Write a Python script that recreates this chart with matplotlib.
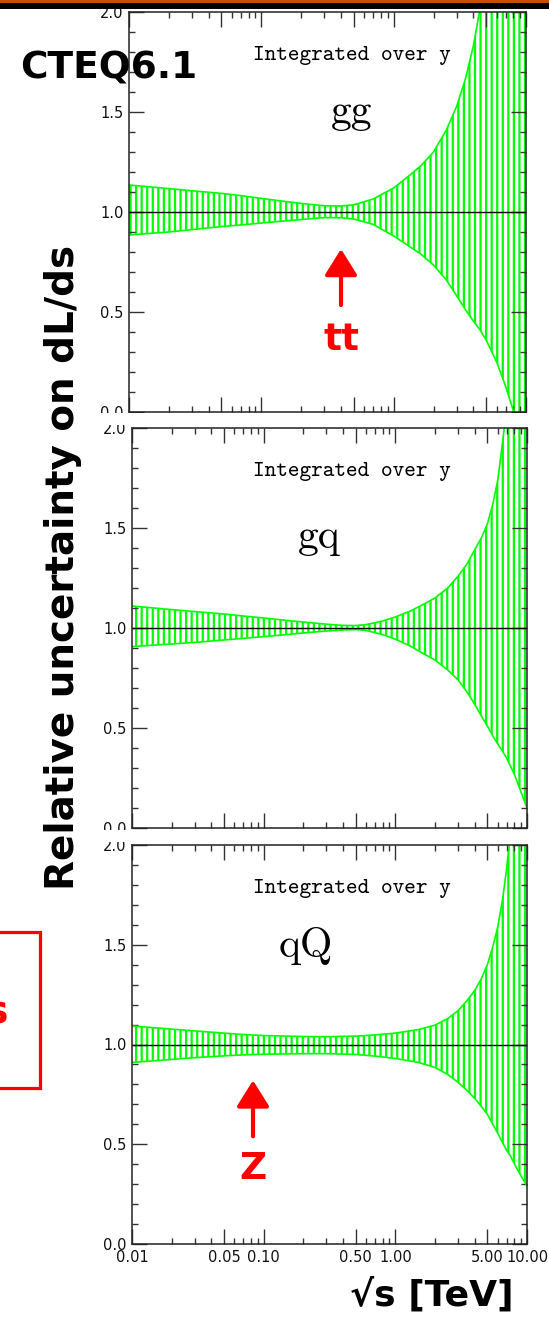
import numpy as np
import matplotlib
matplotlib.use("Agg")
import matplotlib.pyplot as plt
from matplotlib.patches import Rectangle
from matplotlib.ticker import FixedLocator, LogLocator, NullFormatter

W, H = 549, 1318

# sqrt(s) in TeV and the edges of the PDF uncertainty band on dL/ds
gg_sqrt_s = [0.01, 0.02, 0.03, 0.05, 0.07, 0.1, 0.15, 0.2, 0.3, 0.4, 0.5, 0.7, 1.0,
             1.3, 1.6, 2.0, 2.5, 3.0, 3.5, 4.0, 4.5, 5.0, 6.0, 7.0, 8.0, 10.0]
gg_low = [0.885, 0.900, 0.912, 0.927, 0.935, 0.945, 0.955, 0.962, 0.972, 0.971, 0.965, 0.938, 0.88,
          0.83, 0.79, 0.735, 0.66, 0.58, 0.51, 0.455, 0.41, 0.36, 0.25, 0.13, 0.01, -0.25]
gg_high = [1.135, 1.117, 1.106, 1.093, 1.082, 1.068, 1.053, 1.043, 1.031, 1.030, 1.036, 1.065, 1.12,
           1.18, 1.23, 1.30, 1.41, 1.53, 1.67, 1.83, 2.02, 2.22, 2.6, 3.0, 3.4, 4.2]

gq_sqrt_s = [0.01, 0.02, 0.03, 0.05, 0.07, 0.1, 0.15, 0.2, 0.3, 0.4, 0.5, 0.6, 0.8, 1.0,
             1.3, 1.6, 2.0, 2.5, 3.0, 3.5, 4.0, 4.5, 5.0, 5.5, 6.0, 6.5, 7.0, 8.0, 9.0, 10.0]
gq_low = [0.907, 0.92, 0.928, 0.94, 0.948, 0.957, 0.967, 0.975, 0.985, 0.99, 0.992, 0.988, 0.967, 0.944,
          0.91, 0.875, 0.84, 0.79, 0.74, 0.68, 0.62, 0.56, 0.51, 0.46, 0.42, 0.385, 0.35, 0.27, 0.18, 0.10]
gq_high = [1.11, 1.092, 1.082, 1.07, 1.06, 1.05, 1.038, 1.03, 1.019, 1.013, 1.012, 1.017, 1.035, 1.055,
           1.085, 1.115, 1.15, 1.20, 1.26, 1.32, 1.39, 1.45, 1.52, 1.62, 1.74, 1.92, 2.1, 2.5, 2.9, 3.4]

qq_sqrt_s = [0.01, 0.02, 0.03, 0.05, 0.07, 0.1, 0.2, 0.3, 0.5, 0.7, 1.0, 1.5, 2.0,
             2.5, 3.0, 3.5, 4.0, 4.5, 5.0, 5.5, 6.0, 6.5, 7.0, 7.5, 8.5, 10.0]
qq_low = [0.91, 0.925, 0.934, 0.943, 0.948, 0.951, 0.954, 0.954, 0.95, 0.942, 0.930, 0.91, 0.885,
          0.85, 0.81, 0.77, 0.73, 0.69, 0.65, 0.60, 0.555, 0.51, 0.47, 0.44, 0.37, 0.29]
qq_high = [1.093, 1.077, 1.068, 1.057, 1.05, 1.045, 1.04, 1.039, 1.042, 1.048, 1.057, 1.075, 1.097,
           1.13, 1.17, 1.22, 1.27, 1.33, 1.40, 1.49, 1.59, 1.72, 1.88, 2.06, 2.5, 3.3]

channels = ["gg", "gq", "qQ"]
x_ticks = [0.01, 0.05, 0.1, 0.5, 1.0, 5.0, 10.0]
x_tick_labels = ["0.01", "0.05", "0.10", "0.50", "1.00", "5.00", "10.00"]
y_ticks = [0.0, 0.5, 1.0, 1.5, 2.0]
y_tick_labels = ["0.0", "0.5", "1.0", "1.5", "2.0"]

GREEN = "#00ff00"
RED = "#ff0000"

plt.rcParams["hatch.linewidth"] = 1.6


def rect(x0, top, x1, bottom):
    """Figure-fraction rect from pixel edges (origin top-left)."""
    return [x0 / W, 1 - bottom / H, (x1 - x0) / W, (bottom - top) / H]


def style_axes(ax, show_xlabels):
    ax.set_xscale("log")
    ax.set_xlim(0.01, 10.0)
    ax.set_ylim(0.0, 2.0)
    ax.xaxis.set_major_locator(FixedLocator(x_ticks))
    ax.xaxis.set_minor_locator(LogLocator(base=10, subs=np.arange(2, 10)))
    ax.xaxis.set_minor_formatter(NullFormatter())
    if show_xlabels:
        ax.set_xticklabels(x_tick_labels)
    else:
        ax.set_xticklabels([])
    ax.set_yticks(y_ticks)
    ax.set_yticklabels(y_tick_labels)
    ax.yaxis.set_minor_locator(FixedLocator(np.arange(0, 2.01, 0.1)))
    ax.tick_params(which="both", direction="in", top=True, right=True,
                   color="#333333", width=1.0, labelsize=10.5, labelcolor="#111111")
    ax.tick_params(which="major", length=11, pad=4)
    ax.tick_params(which="minor", length=4.5)
    for s in ax.spines.values():
        s.set_linewidth(1.1)
        s.set_color("#222222")


def draw_band(ax, x, lo, hi, name, text_x, name_x, name_y):
    ax.fill_between(x, lo, hi, facecolor="none", edgecolor=GREEN,
                    hatch="|||", linewidth=0)
    ax.plot(x, lo, color=GREEN, lw=1.2)
    ax.plot(x, hi, color=GREEN, lw=1.2)
    ax.axhline(1.0, color="black", lw=1.0)
    ax.text(text_x, 0.88, "Integrated over y", transform=ax.transAxes,
            ha="center", va="baseline", fontsize=16, family="cmtt10")
    ax.text(name_x, name_y, name, transform=ax.transAxes,
            ha="center", va="baseline", fontsize=30, family="cmr10")


fig = plt.figure(figsize=(W / 100, H / 100), dpi=100)

ax1 = fig.add_axes(rect(129, 12, 526, 412))
ax2 = fig.add_axes(rect(132, 428, 527, 828))
ax3 = fig.add_axes(rect(132, 845, 527, 1244))

draw_band(ax1, gg_sqrt_s, gg_low, gg_high, channels[0], 0.562, 0.562, 0.7225)
draw_band(ax2, gq_sqrt_s, gq_low, gq_high, channels[1], 0.557, 0.473, 0.70)
draw_band(ax3, qq_sqrt_s, qq_low, qq_high, channels[2], 0.557, 0.44, 0.72)
style_axes(ax1, False)
style_axes(ax2, False)
style_axes(ax3, True)

# red markers: top-pair threshold and Z mass
arrow = dict(arrowstyle="-|>,head_length=0.8,head_width=0.5", color=RED,
             lw=3, mutation_scale=20, shrinkA=0, shrinkB=0)
ax1.annotate("", xy=(0.40, 0.815), xytext=(0.40, 0.535), arrowprops=arrow)
ax1.text(0.40, 0.31, "tt", color=RED, fontsize=27, fontweight="bold",
         ha="center", va="baseline")
ax3.annotate("", xy=(0.083, 0.82), xytext=(0.083, 0.54), arrowprops=arrow)
ax3.text(0.083, 0.325, "Z", color=RED, fontsize=27, fontweight="bold",
         ha="center", va="baseline")

# white strips hide the bottom labels of the upper panels
for top, bottom in [(413.5, 425.5), (829.5, 842)]:
    fig.patches.append(Rectangle((85 / W, 1 - bottom / H), 1, (bottom - top) / H,
                                 transform=fig.transFigure, facecolor="white",
                                 edgecolor="none", zorder=3))

# slide header bar
fig.patches.append(Rectangle((0, 1 - 9 / H), 1, 9 / H, transform=fig.transFigure,
                             facecolor="black", edgecolor="none", zorder=4))
fig.patches.append(Rectangle((0, 1 - 3 / H), 1, 3 / H, transform=fig.transFigure,
                             facecolor="#c0500a", edgecolor="none", zorder=5))

# red call-out box at the left edge
fig.patches.append(Rectangle((-10 / W, 1 - 1088 / H), 50 / W, 156 / H,
                             transform=fig.transFigure, facecolor="none",
                             edgecolor=RED, lw=2.3, zorder=4))
fig.text(8 / W, 1 - 1023 / H, "s", color=RED, fontsize=27, fontweight="bold",
         ha="right", va="baseline")

fig.text(20 / W, 1 - 78 / H, "CTEQ6.1", fontsize=27, fontweight="bold",
         ha="left", va="baseline", zorder=6)
fig.text(63 / W, 1 - 567 / H, "Relative uncertainty on dL/ds", fontsize=28,
         fontweight="bold", rotation=90, ha="center", va="center")
fig.text(432 / W, 1 - 1306 / H, "\u221as [TeV]", fontsize=26, fontweight="bold",
         ha="center", va="baseline")

fig.savefig("out.png", dpi=100)
